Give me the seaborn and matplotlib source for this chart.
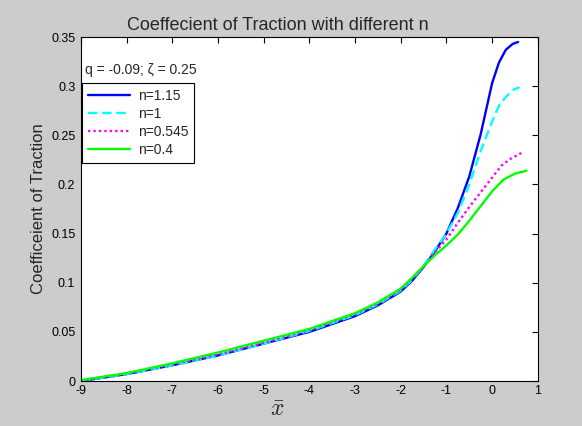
import numpy as np
import pandas as pd
import matplotlib
matplotlib.use("Agg")
import matplotlib.pyplot as plt
import seaborn as sns

# Coefficient of traction along x-bar for four values of n
x_n115 = [-9, -8, -7, -6, -5, -4, -3, -2.5, -2, -1.75, -1.5, -1.25, -1, -0.75, -0.5, -0.25, 0, 0.15, 0.3, 0.45, 0.57]
y_n115 = [0, 0.007, 0.016, 0.026, 0.038, 0.050, 0.066, 0.077, 0.091, 0.102, 0.116, 0.132, 0.150, 0.176, 0.208, 0.251, 0.303, 0.324, 0.337, 0.343, 0.345]

x_n1 = [-9, -8, -7, -6, -5, -4, -3, -2.5, -2, -1.75, -1.5, -1.25, -1, -0.75, -0.5, -0.25, 0, 0.15, 0.3, 0.45, 0.6]
y_n1 = [0, 0.007, 0.016, 0.026, 0.038, 0.051, 0.067, 0.078, 0.092, 0.103, 0.117, 0.134, 0.150, 0.171, 0.200, 0.234, 0.264, 0.280, 0.289, 0.296, 0.299]

x_n0545 = [-9, -8, -7, -6, -5, -4, -3, -2.5, -2, -1.75, -1.5, -1.25, -1, -0.75, -0.5, -0.25, 0, 0.2, 0.4, 0.64]
y_n0545 = [0, 0.008, 0.017, 0.027, 0.039, 0.052, 0.068, 0.079, 0.093, 0.104, 0.116, 0.131, 0.144, 0.161, 0.177, 0.192, 0.207, 0.219, 0.226, 0.232]

x_n04 = [-9, -8, -7, -6, -5, -4, -3, -2.5, -2, -1.75, -1.5, -1.25, -1, -0.75, -0.5, -0.25, 0, 0.25, 0.5, 0.75]
y_n04 = [0.001, 0.008, 0.018, 0.029, 0.041, 0.053, 0.069, 0.080, 0.094, 0.105, 0.117, 0.128, 0.138, 0.149, 0.163, 0.178, 0.193, 0.205, 0.211, 0.214]

labels = ["n=1.15", "n=1", "n=0.545", "n=0.4"]
xs = [x_n115, x_n1, x_n0545, x_n04]
ys = [y_n115, y_n1, y_n0545, y_n04]
colors = ["#0000ff", "#00ffff", "#ff00ff", "#00ff00"]
styles = ["-", (0, (4, 2)), (0, (1, 1.3)), "-"]

x_ticks = list(range(-9, 2))
y_ticks = [0, 0.05, 0.1, 0.15, 0.2, 0.25, 0.3, 0.35]
y_tick_labels = ["0", "0.05", "0.1", "0.15", "0.2", "0.25", "0.3", "0.35"]

sns.set_theme(style="white")
plt.rcParams["font.family"] = ["Liberation Sans", "DejaVu Sans"]
plt.rcParams["mathtext.fontset"] = "cm"

fig = plt.figure(figsize=(5.82, 4.26), dpi=100, facecolor="#cccccc")
ax = fig.add_axes([0.139, 0.1056, 0.785, 0.8074])
ax.set_facecolor("white")

for xv, yv, lab, col, ls in zip(xs, ys, labels, colors, styles):
    df = pd.DataFrame({"x": xv, "y": yv})
    sns.lineplot(data=df, x="x", y="y", ax=ax, color=col, linestyle=ls,
                 linewidth=1.7, label=lab, estimator=None, sort=True)

ax.set_xlim(-9, 1)
ax.set_ylim(0, 0.35)
ax.set_xticks(x_ticks)
ax.set_xticklabels([str(t) for t in x_ticks])
ax.set_yticks(y_ticks)
ax.set_yticklabels(y_tick_labels)
ax.tick_params(direction="in", top=True, right=True, length=4, width=0.8,
               labelsize=9, colors="black")
ax.tick_params(axis="x", pad=3)
ax.tick_params(axis="y", pad=4)
for sp in ax.spines.values():
    sp.set_color("black")
    sp.set_linewidth(0.8)

ax.set_title("Coeffecient of Traction with different n", fontsize=13, pad=5,
             x=0.43)
ax.set_ylabel("Coefficeient of Traction", fontsize=12, labelpad=4)
ax.set_xlabel(r"$\bar{x}$", fontsize=17, labelpad=1, x=0.43)

ax.text(0.008, 0.905, "q = -0.09; \u03b6 = 0.25", transform=ax.transAxes,
        fontsize=10, va="center", ha="left")

leg = ax.legend(loc="upper left", bbox_to_anchor=(0.0, 0.87), fontsize=10,
                frameon=True, fancybox=False, framealpha=1, edgecolor="black",
                handlelength=3.0, borderaxespad=0.1, labelspacing=0.3,
                borderpad=0.4, handletextpad=0.6)
leg.get_frame().set_linewidth(0.8)

fig.savefig("out.png", dpi=100, facecolor=fig.get_facecolor())
